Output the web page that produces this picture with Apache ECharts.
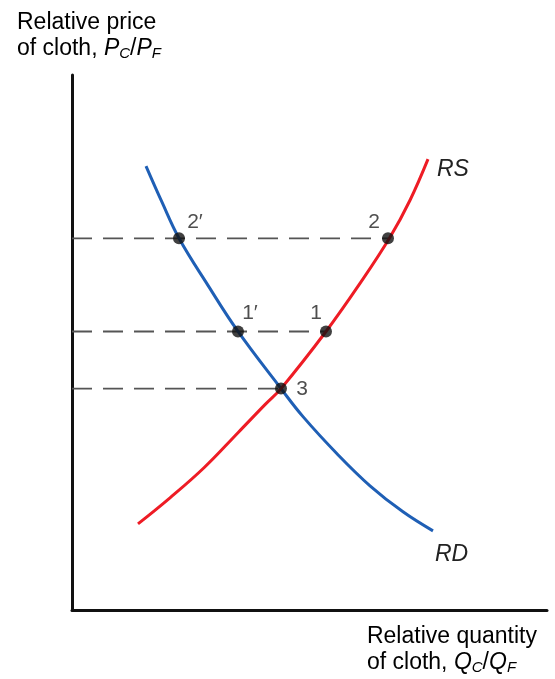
<!DOCTYPE html>
<html>
<head>
<meta charset="utf-8">
<script src="https://cdn.jsdelivr.net/npm/echarts@6/dist/echarts.min.js"></script>
<style>
  html, body { margin: 0; padding: 0; background: #fff; }
  #chart { width: 555px; height: 679px; }
</style>
</head>
<body>
<div id="chart"></div>
<script>
// values (x: quantity, y: price, arbitrary units)
var rdCurve = [[74, 443], [90, 407], [107, 371], [136, 324], [166, 278], [209, 221],
  [231, 193], [265, 156], [298, 124], [331, 98], [361, 79]];
var rsCurve = [[66, 86], [98, 112], [132, 142], [166, 177], [193, 205], [209, 221],
  [254, 278], [288, 326], [318, 372], [338, 409], [356, 450]];
var pointNames = ["2\u2032", "2", "1\u2032", "1", "3"];
var pointValues = [[107, 371], [316, 371], [166, 278], [254, 278], [209, 221]];
var priceLevels = [[316, 371], [254, 278], [209, 221]];

var chart = echarts.init(document.getElementById("chart"));
var font = "Liberation Sans, Arial, Helvetica, sans-serif";

var series = [
  {
    name: "RD",
    type: "line",
    smooth: 0.4,
    symbol: "none",
    data: rdCurve,
    lineStyle: { color: "#1f5fb5", width: 3 },
    z: 3
  },
  {
    name: "RS",
    type: "line",
    smooth: 0.4,
    symbol: "none",
    data: rsCurve,
    lineStyle: { color: "#ee1c25", width: 3 },
    z: 3
  }
];

priceLevels.forEach(function(p) {
  series.push({
    type: "line",
    symbol: "none",
    data: [[0, p[1]], [p[0], p[1]]],
    lineStyle: { color: "#555", width: 1.8, type: [20, 11] },
    z: 2
  });
});

var labelOffsets = [[16, -16], [-14, -16], [12, -18], [-10, -18], [21, 1]];
series.push({
  type: "scatter",
  symbolSize: 12,
  itemStyle: { color: "#111" },
  z: 5,
  data: pointValues.map(function(v, i) {
    return {
      value: v,
      label: {
        show: true,
        formatter: pointNames[i],
        offset: labelOffsets[i],
        fontSize: 21,
        fontFamily: font,
        color: "#222"
      }
    };
  })
});

var subRich = {
  n: { fontSize: 23, fontFamily: font, color: "#222", lineHeight: 26 },
  i: { fontSize: 23, fontFamily: font, fontStyle: "italic", color: "#222", lineHeight: 26 },
  s: { fontSize: 15, fontFamily: font, fontStyle: "italic", color: "#222", padding: [11, 0, 0, 0], lineHeight: 26 }
};

chart.setOption({
  animation: false,
  grid: { left: 72, right: 8, top: 75, bottom: 69 },
  xAxis: {
    type: "value",
    min: 0,
    max: 475,
    axisLine: { lineStyle: { color: "#111", width: 3 } },
    axisTick: { show: false },
    axisLabel: { show: false },
    splitLine: { show: false }
  },
  yAxis: {
    type: "value",
    min: 0,
    max: 534,
    axisLine: { show: true, lineStyle: { color: "#111", width: 3 } },
    axisTick: { show: false },
    axisLabel: { show: false },
    splitLine: { show: false }
  },
  graphic: [
    {
      type: "text",
      left: 17,
      top: 11,
      style: {
        text: "{n|Relative price}\n{n|of cloth, }{i|P}{s|C}{n|/}{i|P}{s|F}",
        rich: subRich
      }
    },
    {
      type: "text",
      right: 18,
      top: 625,
      style: {
        text: "{n|Relative quantity}\n{n|of cloth, }{i|Q}{s|C}{n|/}{i|Q}{s|F}",
        rich: subRich,
        align: "left"
      }
    },
    {
      type: "text",
      left: 437,
      top: 158,
      style: { text: "RS", fontSize: 23, fontStyle: "italic", fontFamily: font, fill: "#222" }
    },
    {
      type: "text",
      left: 435,
      top: 543,
      style: { text: "RD", fontSize: 23, fontStyle: "italic", fontFamily: font, fill: "#222" }
    }
  ],
  series: series
});
</script>
</body>
</html>
